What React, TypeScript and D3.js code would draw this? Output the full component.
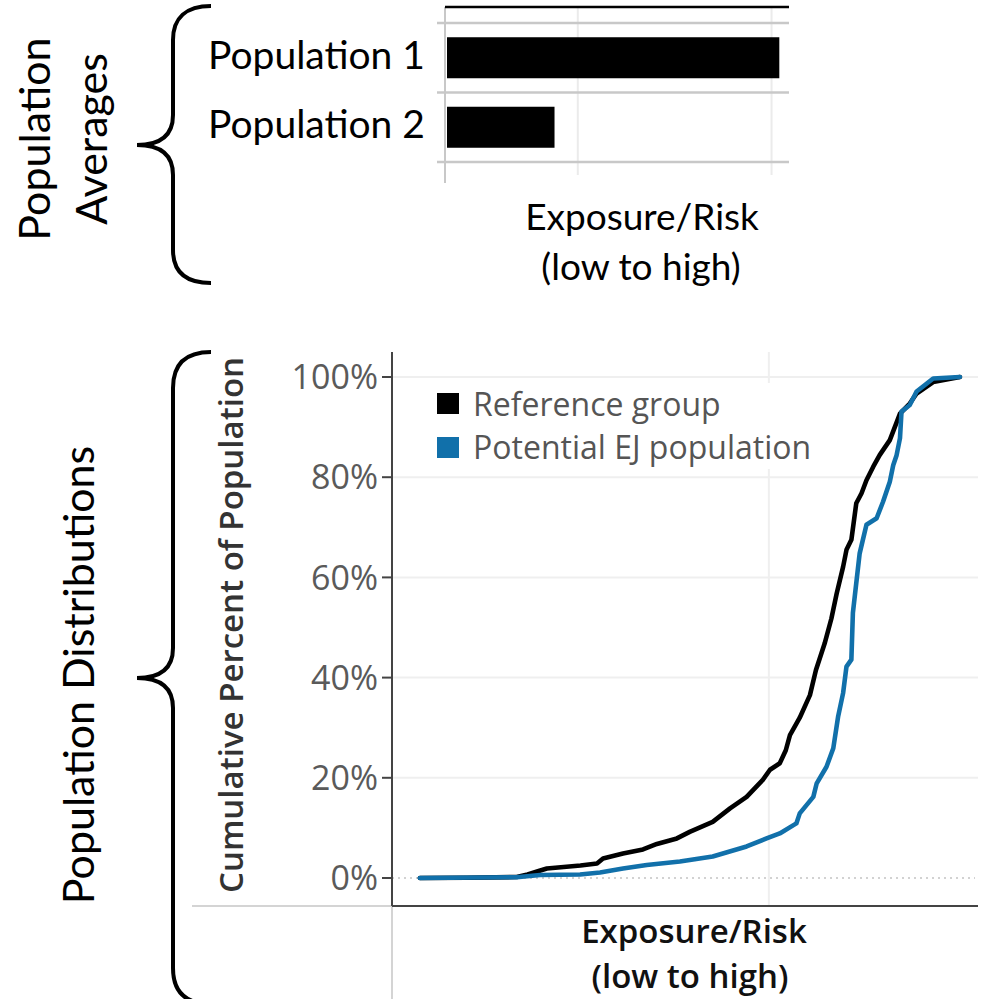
import React from "react";
import * as d3 from "d3";

// ---- Top panel: population averages ----
const barCategories = ["Population 1", "Population 2"];
const barValues = [2.04, 0.88];
const barGridTicks = [1, 2];

// ---- Bottom panel: cumulative distributions ----
const refExposure = [0.74, 2.0, 3.31, 3.6, 3.85, 4.11, 5.0, 5.44, 5.6, 6.13, 6.66, 7.03, 7.56, 7.9, 8.51, 8.97, 9.41, 9.84, 10.03, 10.29, 10.45, 10.56, 10.82, 11.09, 11.25, 11.48, 11.66, 11.8, 11.97, 12.06, 12.19, 12.32, 12.46, 12.59, 12.77, 12.94, 13.21, 13.48, 13.74, 13.92, 14.36, 15.07];
const refCumPct = [0, 0.05, 0.2, 0.7, 1.3, 1.9, 2.5, 2.9, 3.9, 4.9, 5.7, 6.8, 7.9, 9.2, 11.2, 13.9, 16.2, 19.6, 21.6, 22.9, 25.5, 28.5, 32, 36.5, 41.5, 46.8, 51.8, 56.8, 62.1, 65.5, 67.5, 74.8, 76.8, 79.4, 82.1, 84.4, 87.4, 92.7, 94.7, 96.7, 99.0, 100];
const ejExposure = [0.74, 3.31, 3.93, 4.99, 5.52, 6.13, 6.76, 7.64, 8.51, 9.41, 9.94, 10.29, 10.73, 10.82, 11.18, 11.27, 11.53, 11.71, 11.84, 11.97, 12.06, 12.19, 12.23, 12.32, 12.41, 12.59, 12.86, 13.03, 13.21, 13.3, 13.39, 13.48, 13.52, 13.74, 13.92, 14.09, 14.36, 15.07];
const ejCumPct = [0, 0.15, 0.6, 0.7, 1.1, 1.9, 2.6, 3.3, 4.3, 6.3, 7.9, 8.9, 10.9, 12.9, 16.2, 18.9, 22.2, 25.9, 32.3, 36.9, 42.2, 43.6, 52.9, 58.9, 64.8, 70.5, 71.8, 75.1, 79.1, 82.4, 84.4, 87.8, 93.1, 94.4, 97.1, 98.1, 99.7, 100];
const yTicks = [0, 20, 40, 60, 80, 100];
const xGridTicks = [10];
const seriesNames = ["Reference group", "Potential EJ population"];
const seriesColors = ["#000000", "#1170aa"];

const W = 986;
const H = 999;

const calibri = "Lato, 'Open Sans', sans-serif";
const tabFont = "'Open Sans', 'Noto Sans', sans-serif";

export default function App() {
  // top scales
  const bx = d3.scaleLinear().domain([0.32, 2.09]).range([446, 789]);
  const by = d3
    .scaleBand<string>()
    .domain(barCategories)
    .range([23, 162])
    .paddingInner(0.41)
    .paddingOuter(0.205);
  const step = by.step();
  const rowBounds = [23, ...barCategories.map((c) => (by(c) as number) + by.bandwidth() + (step - by.bandwidth()) / 2)];

  // bottom scales
  const x = d3.scaleLinear().domain([0, 15.55]).range([392, 978]);
  const y = d3.scaleLinear().domain([0, 100]).range([878, 377]);
  const line = d3
    .line<[number, number]>()
    .x((d) => x(d[0]))
    .y((d) => y(d[1]));
  const refPts = refExposure.map((v, i) => [v, refCumPct[i]] as [number, number]);
  const ejPts = ejExposure.map((v, i) => [v, ejCumPct[i]] as [number, number]);
  const series = [refPts, ejPts];

  const plotTop = 352;
  const plotBottom = 906;
  const [x0, x1] = x.range();

  return (
    <svg width={W} height={H} style={{ position: "absolute", left: 0, top: 0, background: "#fff" }}>
      <rect x={0} y={0} width={W} height={H} fill="#fff" />

      {/* Braces */}
      <path
        d="M211,6 C186,6 173,18 173,40 L173,115 C173,135 161,145 137,145 C161,145 173,155 173,175 L173,250 C173,272 186,283 211,283"
        fill="none"
        stroke="#000"
        strokeWidth={4}
      />
      <path
        d="M211,352 C186,352 173,364 173,388 L173,648 C173,668 161,678 137,678 C161,678 173,688 173,708 L173,968 C173,992 186,1004 211,1004"
        fill="none"
        stroke="#000"
        strokeWidth={4}
      />

      {/* Left labels */}
      <g fontFamily={calibri} fontSize={43} fill="#000" textAnchor="middle">
        <text transform="translate(50,139) rotate(-90)">Population</text>
        <text transform="translate(107,139) rotate(-90)">Averages</text>
        <text transform="translate(94,675) rotate(-90)">Population Distributions</text>
      </g>

      {/* ---- Top bar chart ---- */}
      {barGridTicks.map((t) => (
        <line key={t} x1={bx(t)} x2={bx(t)} y1={7} y2={175} stroke="#ebebeb" strokeWidth={2} />
      ))}
      {rowBounds.map((yy, i) => (
        <line key={i} x1={437} x2={789} y1={yy} y2={yy} stroke="#c8c8c8" strokeWidth={2.5} />
      ))}
      <line x1={445} x2={445} y1={7} y2={183} stroke="#c8c8c8" strokeWidth={2} />
      <line x1={445} x2={789} y1={7} y2={7} stroke="#000" strokeWidth={2.5} />
      {barCategories.map((c, i) => (
        <rect
          key={c}
          x={bx.range()[0] + 1}
          y={by(c) as number}
          width={bx(barValues[i]) - bx.range()[0] - 1}
          height={by.bandwidth()}
          fill="#000"
        />
      ))}
      <g fontFamily={calibri} fill="#000">
        {barCategories.map((c) => (
          <text key={c} x={425} y={(by(c) as number) + by.bandwidth() / 2 + 11} textAnchor="end" fontSize={39}>
            {c}
          </text>
        ))}
        <text x={642} y={230} textAnchor="middle" fontSize={37}>Exposure/Risk</text>
        <text x={641} y={280} textAnchor="middle" fontSize={37}>(low to high)</text>
      </g>

      {/* ---- Bottom CDF chart ---- */}
      {yTicks
        .filter((t) => t > 0)
        .map((t) => (
          <line key={t} x1={x0} x2={x1} y1={y(t)} y2={y(t)} stroke="#efefef" strokeWidth={2} />
        ))}
      {xGridTicks.map((t) => (
        <line key={t} x1={x(t)} x2={x(t)} y1={plotTop} y2={plotBottom} stroke="#efefef" strokeWidth={2} />
      ))}
      <line x1={x0} x2={x1 - 3} y1={y(0)} y2={y(0)} stroke="#c4c4c4" strokeWidth={1.5} strokeDasharray="2,4" />

      {/* legend */}
      <rect x={428} y={383} width={400} height={86} fill="#fff" />
      {seriesNames.map((n, i) => (
        <g key={n}>
          <rect x={437} y={393 + i * 44} width={22} height={21} fill={seriesColors[i]} />
          <text x={473} y={416 + i * 43} fontFamily={tabFont} fontSize={32} fill="#555">
            {n}
          </text>
        </g>
      ))}

      {/* lines */}
      {series.map((pts, i) => (
        <path
          key={i}
          d={line(pts) || ""}
          fill="none"
          stroke={seriesColors[i]}
          strokeWidth={4.6}
          strokeLinejoin="round"
          strokeLinecap="round"
        />
      ))}

      {/* axes */}
      <line x1={192} x2={x0} y1={plotBottom} y2={plotBottom} stroke="#d4d4d4" strokeWidth={2} />
      <line x1={x0} x2={x0} y1={plotBottom} y2={H} stroke="#d4d4d4" strokeWidth={2} />
      <line x1={x0} x2={x1} y1={plotBottom} y2={plotBottom} stroke="#444" strokeWidth={2} />
      <line x1={x0} x2={x0} y1={plotTop} y2={plotBottom} stroke="#444" strokeWidth={2} />
      {yTicks.map((t) => (
        <g key={t}>
          <line x1={382} x2={x0} y1={y(t)} y2={y(t)} stroke="#444" strokeWidth={2} />
          <text x={378} y={y(t)} dy="0.36em" textAnchor="end" fontFamily={tabFont} fontSize={34} fill="#5a5a5a">
            {`${t}%`}
          </text>
        </g>
      ))}

      <text
        transform="translate(243,625) rotate(-90)"
        textAnchor="middle"
        fontFamily={tabFont}
        fontWeight={600}
        fontSize={32}
        textLength={536}
        lengthAdjust="spacingAndGlyphs"
        fill="#333"
      >
        Cumulative Percent of Population
      </text>
      <g fontFamily={tabFont} fontWeight={600} fontSize={33} fill="#111" textAnchor="middle">
        <text x={694} y={943}>Exposure/Risk</text>
        <text x={690} y={988}>(low to high)</text>
      </g>
    </svg>
  );
}
